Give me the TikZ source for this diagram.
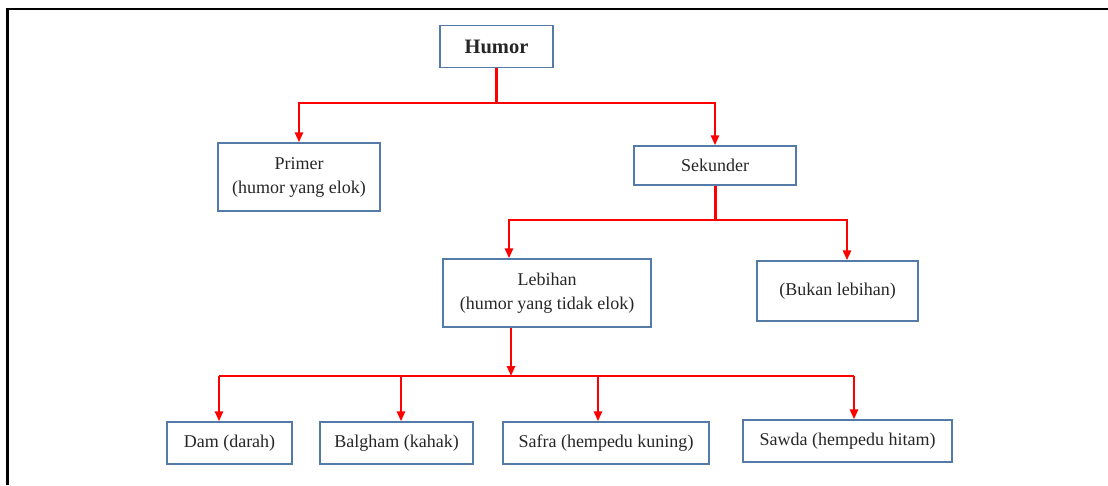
\documentclass[tikz,border=0pt]{standalone}
\usepackage{fontspec}
\setmainfont{Liberation Serif}
\usetikzlibrary{arrows.meta}
\definecolor{boxblue}{RGB}{84,122,168}
\definecolor{linkred}{RGB}{255,0,0}
\begin{document}
\begin{tikzpicture}[x=1pt,y=-1pt]
        \tikzstyle{humour}=[draw=boxblue,line width=1.3pt,inner sep=0pt,align=center,text=black!85,font=\fontsize{18}{24}\selectfont]
        \tikzstyle{edge}=[draw=linkred,line width=2.4pt]
        \tikzstyle{arrow}=[edge,-{Triangle[length=10pt,width=8pt]}]
        \useasboundingbox (0,0) rectangle (1108,485);
        % frame
        \draw[line width=2.5pt] (7.5,485) -- (7.5,9) -- (1108,9);
       \begin{scope}
         \node [humour,minimum width=113pt,minimum height=42pt,font=\fontsize{20.5}{24}\selectfont\bfseries] (humor) at (496.5,46.5) {Humor};
         \node [humour,minimum width=162pt,minimum height=68pt] (primer) at (299,177) {Primer\\(humor yang elok)};
         \node [humour,minimum width=162pt,minimum height=39pt] (sekunder) at (715,165.5) {Sekunder};
         \node [humour,minimum width=208pt,minimum height=68pt] (lebihan) at (547,293) {Lebihan\\(humor yang tidak elok)};
         \node [humour,minimum width=161pt,minimum height=60pt] (bukan) at (837.5,291) {(Bukan lebihan)};
         \node [humour,minimum width=125pt,minimum height=42pt] (dam) at (229.5,443) {Dam (darah)};
         \node [humour,minimum width=153pt,minimum height=42pt] (balgham) at (396.5,443) {Balgham (kahak)};
         \node [humour,minimum width=206pt,minimum height=42pt] (safra) at (606,443) {Safra (hempedu kuning)};
         \node [humour,minimum width=209pt,minimum height=42pt] (sawda) at (847.5,441) {Sawda (hempedu hitam)};
         % humor -> primer, sekunder
         \coordinate (hum-y) at (0,103);
         \coordinate (hum-j) at (humor.south |- hum-y);
         \path[edge,line width=3pt] (humor.south) -- (hum-j);
         \path[arrow] (hum-j) -| (primer.north);
         \path[arrow] (hum-j) -| (sekunder.north);
         % sekunder -> lebihan, bukan
         \coordinate (sek-l) at (509,220);
         \coordinate (sek-r) at (847,220);
         \coordinate (sek-j) at (sekunder.south |- sek-l);
         \path[edge,line width=3pt] (sekunder.south) -- (sek-j);
         \path[arrow] (sek-j) -- (sek-l) -- (sek-l |- lebihan.north);
         \path[arrow] (sek-j) -- (sek-r) -- (sek-r |- bukan.north);
         % lebihan -> the four humours
         \coordinate (leb-j) at (511,376);
         \path[arrow] (leb-j |- lebihan.south) -- (leb-j);
         \foreach \x/\n in {219/dam,401/balgham,598/safra,854/sawda}{
           \coordinate (b-\n) at (\x,376);
           \path[arrow] (b-\n) -- (b-\n |- \n.north);
         }
         \path[edge] (b-dam) -- (b-sawda);
        \end{scope}
      \end{tikzpicture}
\end{document}
